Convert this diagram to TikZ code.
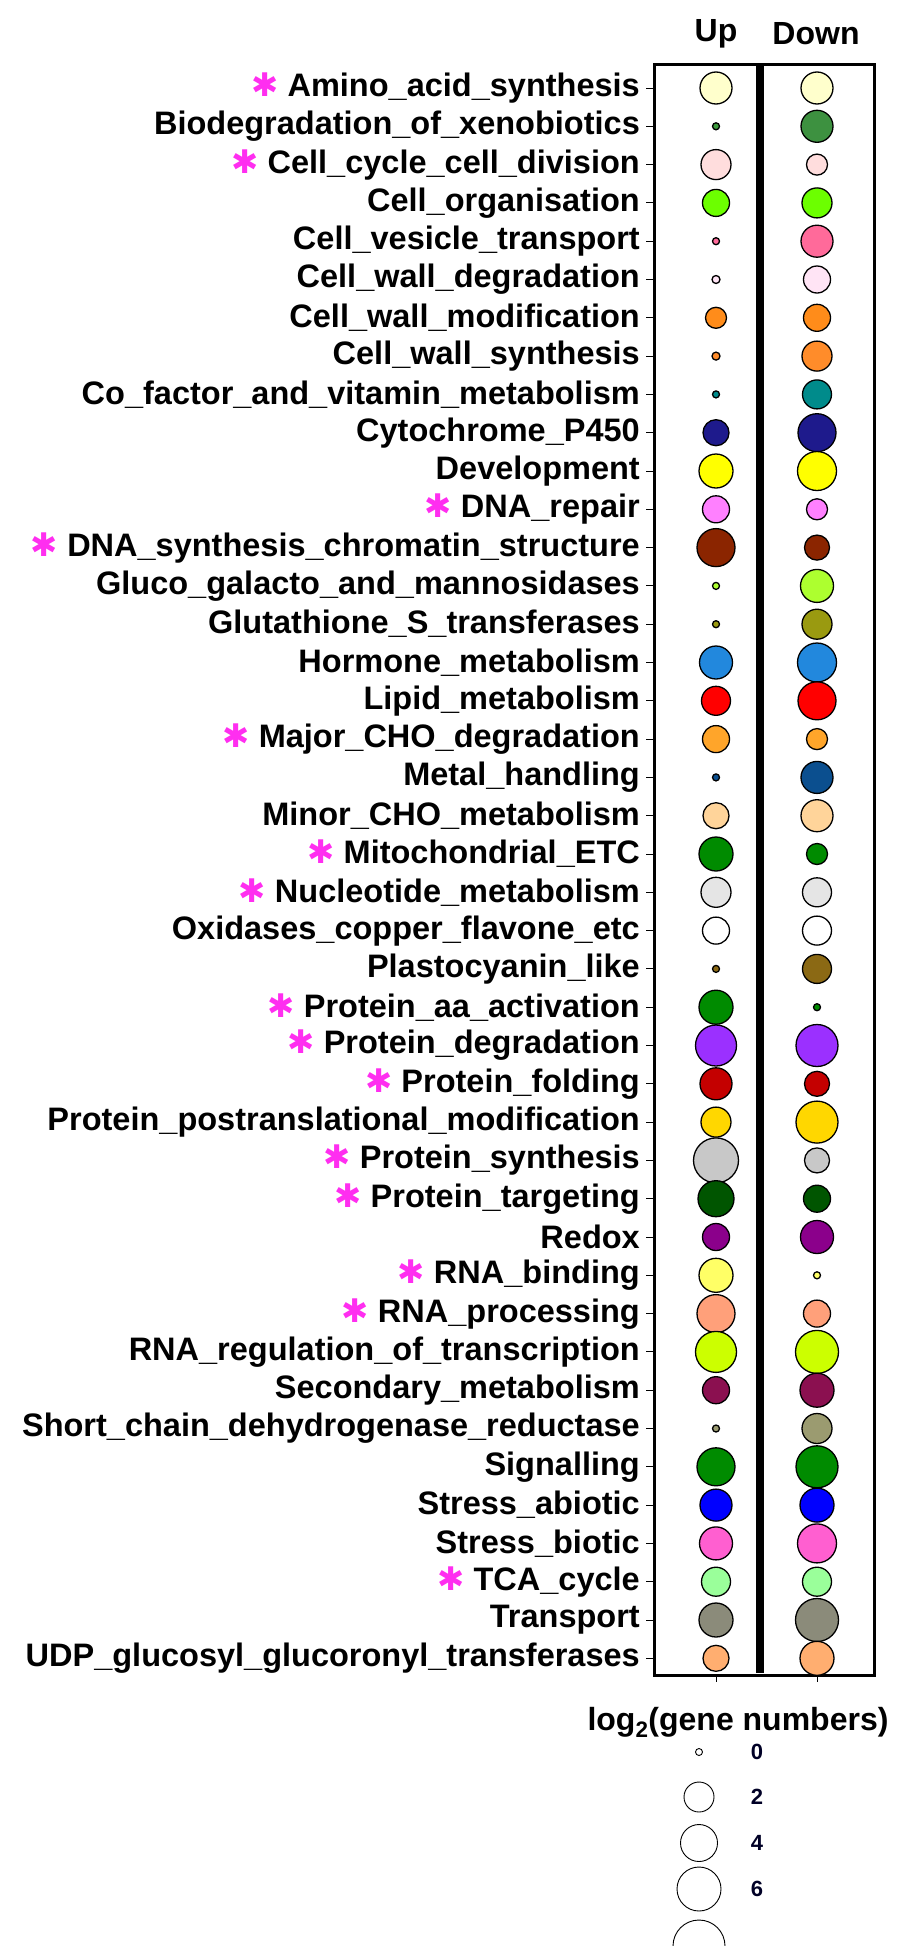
\documentclass[tikz,border=0pt]{standalone}
\usepackage{fontspec}
\setmainfont{Liberation Sans}
\newfontfamily\symfont{DejaVu Sans}
\definecolor{starpink}{HTML}{FF2EF0}
\tikzset{
  lab/.style={anchor=east, font=\bfseries\fontsize{32.5}{32.5}\selectfont, inner sep=0pt},
  bub/.style={circle, draw=black, line width=1.3pt, inner sep=0pt},
  hdr/.style={font=\bfseries\fontsize{32}{32}\selectfont},
  key/.style={circle, draw=black, line width=0.9pt, inner sep=0pt, fill=white}
}
\newcommand{\st}{{\color{starpink}\symfont ✱}\ }
\begin{document}
\begin{tikzpicture}[x=1pt, y=-1pt]
  \clip (0,0) rectangle (913,1946);
  \fill[white] (0,0) rectangle (913,1946);
  % frame and divider
  \draw[line width=3pt] (654,64) rectangle (874,1675);
  \draw[line width=8pt] (760,64) -- (760,1673);
  \node[hdr] (up) at (716,34) {Up};
  \node[hdr] (down) at (816,34) {Down};
  \foreach \i/\t/\a/\ca/\b/\cb in {
    0/{\st Amino\_acid\_synthesis}/32/FFFFCC/32/FFFFCC,
    1/{Biodegradation\_of\_xenobiotics}/7/3C9A3C/32/3D9140,
    2/{\st Cell\_cycle\_cell\_division}/30/FFDDDD/21/FFDDDD,
    3/{Cell\_organisation}/27/6CFF00/30/6CFF00,
    4/{Cell\_vesicle\_transport}/7/FF6A9A/32/FF6A9A,
    5/{Cell\_wall\_degradation}/8/FFE4F5/27/FFE4F5,
    6/{Cell\_wall\_modification}/21/FF8C1A/27/FF8C1A,
    7/{Cell\_wall\_synthesis}/8/FF8C2A/30/FF8C2A,
    8/{Co\_factor\_and\_vitamin\_metabolism}/7/008B8B/29/008B8B,
    9/{Cytochrome\_P450}/26/1E1A8C/38/1E1A8C,
    10/{Development}/34/FFFF00/39/FFFF00,
    11/{\st DNA\_repair}/27/FF80FF/21/FF80FF,
    12/{\st DNA\_synthesis\_chromatin\_structure}/38/8B2500/25/8B2500,
    13/{Gluco\_galacto\_and\_mannosidases}/7/ADFF2F/33/ADFF2F,
    14/{Glutathione\_S\_transferases}/7/9A9A10/30/9A9A10,
    15/{Hormone\_metabolism}/33/2288DD/39/2288DD,
    16/{Lipid\_metabolism}/29/FF0000/38/FF0000,
    17/{\st Major\_CHO\_degradation}/27/FFA52A/21/FFA52A,
    18/{Metal\_handling}/7/0B4F8F/32/0B4F8F,
    19/{Minor\_CHO\_metabolism}/26/FFD49A/32/FFD49A,
    20/{\st Mitochondrial\_ETC}/34/008B00/21/008B00,
    21/{\st Nucleotide\_metabolism}/30/E5E5E5/29/E5E5E5,
    22/{Oxidases\_copper\_flavone\_etc}/27/FFFFFF/29/FFFFFF,
    23/{Plastocyanin\_like}/7/8B6914/29/8B6914,
    24/{\st Protein\_aa\_activation}/34/008B00/7/008B00,
    25/{\st Protein\_degradation}/41/9B30FF/42/9B30FF,
    26/{\st Protein\_folding}/32/C40000/25/C40000,
    27/{Protein\_postranslational\_modification}/30/FFD700/42/FFD700,
    28/{\st Protein\_synthesis}/45/C8C8C8/25/C8C8C8,
    29/{\st Protein\_targeting}/36/005500/27/005500,
    30/{Redox}/27/8B008B/33/8B008B,
    31/{\st RNA\_binding}/34/FFFF66/7/FFFF66,
    32/{\st RNA\_processing}/38/FFA07A/27/FFA07A,
    33/{RNA\_regulation\_of\_transcription}/41/CCFF00/43/CCFF00,
    34/{Secondary\_metabolism}/27/8B1050/34/8B1050,
    35/{Short\_chain\_dehydrogenase\_reductase}/7/9B9B70/30/9B9B70,
    36/{Signalling}/38/008B00/42/008B00,
    37/{Stress\_abiotic}/32/0000FF/34/0000FF,
    38/{Stress\_biotic}/33/FF5FD0/39/FF5FD0,
    39/{\st TCA\_cycle}/29/9AFF9A/29/9AFF9A,
    40/{Transport}/34/8B8B7A/43/8B8B7A,
    41/{UDP\_glucosyl\_glucoronyl\_transferases}/26/FFAE70/34/FFAE70}
  {
    \pgfmathsetmacro{\yy}{88+38.3*\i}
    \definecolor{ua}{HTML}{\ca}
    \definecolor{ub}{HTML}{\cb}
    \node[lab] (lab\i) at (640,\yy) {\t};
    \coordinate (tk\i) at (654,\yy);
    \draw[line width=1pt] (tk\i) -- ++(-8,0);
    \node[bub, fill=ua, minimum size=\a] (up\i) at (716,\yy) {};
    \node[bub, fill=ub, minimum size=\b] (dn\i) at (817,\yy) {};
  }
  % bottom ticks
  \coordinate (bu) at (716,1675);
  \coordinate (bd) at (817,1675);
  \draw[line width=1pt] (bu) -- ++(0,7);
  \draw[line width=1pt] (bd) -- ++(0,7);
  % legend
  \node[hdr] (lg) at (738,1722) {log\textsubscript{2}(gene numbers)};
  \foreach \k/\v/\d/\yy in {0/0/7/1752, 1/2/30/1797, 2/4/37/1843, 3/6/44/1889}
  {
    \node[key, minimum size=\d] (k\k) at (699,\yy) {};
    \node[font=\bfseries\fontsize{22}{22}\selectfont, text=black!85!blue] (v\k) at (757,\yy) {\v};
  }
  \node[key, minimum size=52] (k4) at (699,1946) {};
\end{tikzpicture}
\end{document}
